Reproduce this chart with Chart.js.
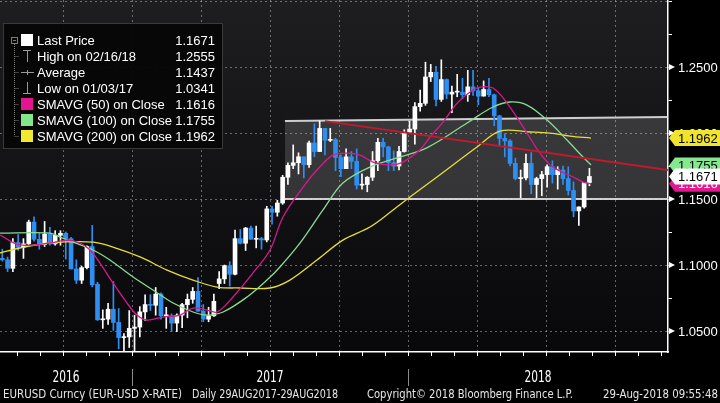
<!DOCTYPE html>
<html>
<head>
<meta charset="utf-8">
<script src="https://cdn.jsdelivr.net/npm/chart.js@4.4.1/dist/chart.umd.min.js"></script>
<style>
  html, body { margin: 0; padding: 0; background: #000; }
  #wrap { width: 720px; height: 403px; }
</style>
</head>
<body>
<div id="wrap"><canvas id="fxChart" width="720" height="403"></canvas></div>
<script>
// --- EURUSD weekly bars ---
const firstWeek = 2016.530;          // middle of the week of 11 Jul 2016, decimal years
const weekStep = 7 / 365.25;

const openPx = [
  1.1050,1.1040,1.0975,1.1170,1.1135,1.1160,1.1325,1.1195,1.1155,1.1235,
  1.1160,1.1225,1.1240,1.1200,1.0970,1.0885,1.0980,1.1140,1.0855,1.0585,
  1.0590,1.0665,1.0565,1.0450,1.0455,1.0520,1.0530,1.0645,1.0700,1.0695,
  1.0780,1.0615,1.0615,1.0560,1.0620,1.0700,1.0740,1.0800,1.0650,1.0590,
  1.0615,1.0860,1.0895,1.0995,1.0930,1.1200,1.1165,1.1280,1.1195,1.1200,
  1.1190,1.1425,1.1400,1.1470,1.1665,1.1755,1.1775,1.1820,1.1760,1.1925,
  1.1860,1.2035,1.1945,1.1950,1.1815,1.1730,1.1820,1.1785,1.1605,1.1610,
  1.1665,1.1790,1.1930,1.1895,1.1775,1.1750,1.1860,1.2005,1.2030,1.2200,
  1.2225,1.2425,1.2460,1.2255,1.2405,1.2295,1.2310,1.2310,1.2290,1.2350,
  1.2320,1.2280,1.2330,1.2290,1.2130,1.1960,1.1940,1.1770,1.1655,1.1660,
  1.1770,1.1610,1.1655,1.1685,1.1745,1.1685,1.1720,1.1655,1.1565,1.1410,
  1.1440,1.1625
];
const highPx = [
  1.1120,1.1060,1.1200,1.1230,1.1200,1.1340,1.1366,1.1240,1.1330,1.1285,
  1.1260,1.1260,1.1250,1.1210,1.1040,1.0990,1.1145,1.1300,1.0870,1.0660,
  1.0710,1.0875,1.0670,1.0480,1.0655,1.0620,1.0685,1.0775,1.0775,1.0830,
  1.0790,1.0680,1.0630,1.0630,1.0710,1.0780,1.0830,1.0905,1.0700,1.0680,
  1.0780,1.0950,1.1000,1.1025,1.1265,1.1270,1.1285,1.1295,1.1295,1.1210,
  1.1445,1.1445,1.1490,1.1680,1.1775,1.1910,1.1850,1.1820,1.1940,1.2070,
  1.2092,1.2035,1.2035,1.1960,1.1835,1.1880,1.1860,1.1880,1.1690,1.1670,
  1.1860,1.1960,1.1960,1.1900,1.1865,1.1900,1.2025,1.2090,1.2230,1.2325,
  1.2537,1.2520,1.2505,1.2555,1.2410,1.2355,1.2445,1.2415,1.2475,1.2475,
  1.2345,1.2395,1.2415,1.2295,1.2135,1.1995,1.1950,1.1810,1.1720,1.1840,
  1.1852,1.1665,1.1710,1.1760,1.1790,1.1745,1.1750,1.1745,1.1630,1.1440,
  1.1625,1.1733
];
const lowPx = [
  1.1030,1.0950,1.0950,1.1110,1.1050,1.1150,1.1180,1.1120,1.1140,1.1150,
  1.1150,1.1150,1.1045,1.0970,1.0860,1.0860,1.0970,1.0835,1.0580,1.0520,
  1.0550,1.0505,1.0365,1.0352,1.0375,1.0341,1.0455,1.0580,1.0655,1.0620,
  1.0590,1.0520,1.0495,1.0495,1.0525,1.0600,1.0710,1.0650,1.0570,1.0570,
  1.0610,1.0820,1.0860,1.0840,1.0925,1.1160,1.1110,1.1195,1.1130,1.1120,
  1.1175,1.1310,1.1370,1.1460,1.1610,1.1730,1.1690,1.1660,1.1740,1.1820,
  1.1860,1.1835,1.1935,1.1715,1.1670,1.1730,1.1730,1.1575,1.1575,1.1555,
  1.1640,1.1715,1.1820,1.1715,1.1715,1.1720,1.1855,1.1995,1.1915,1.2165,
  1.2210,1.2390,1.2205,1.2240,1.2260,1.2155,1.2275,1.2260,1.2240,1.2285,
  1.2215,1.2280,1.2275,1.2055,1.1910,1.1820,1.1750,1.1645,1.1510,1.1645,
  1.1540,1.1510,1.1525,1.1590,1.1620,1.1575,1.1610,1.1530,1.1365,1.1301,
  1.1430,1.1600
];
const closePx = [
  1.1040,1.0975,1.1170,1.1135,1.1160,1.1325,1.1195,1.1155,1.1235,1.1160,
  1.1225,1.1240,1.1200,1.0970,1.0885,1.0980,1.1140,1.0850,1.0585,1.0590,
  1.0665,1.0565,1.0450,1.0455,1.0520,1.0530,1.0645,1.0700,1.0695,1.0780,
  1.0615,1.0615,1.0560,1.0620,1.0700,1.0740,1.0800,1.0650,1.0590,1.0615,
  1.0725,1.0895,1.0995,1.0930,1.1200,1.1165,1.1280,1.1195,1.1200,1.1190,
  1.1425,1.1400,1.1470,1.1665,1.1755,1.1775,1.1820,1.1760,1.1925,1.1860,
  1.2035,1.1945,1.1950,1.1815,1.1730,1.1820,1.1785,1.1605,1.1610,1.1665,
  1.1790,1.1930,1.1895,1.1775,1.1750,1.1860,1.2005,1.2030,1.2200,1.2225,
  1.2425,1.2460,1.2255,1.2405,1.2295,1.2310,1.2310,1.2290,1.2350,1.2320,
  1.2280,1.2330,1.2290,1.2130,1.1960,1.1940,1.1770,1.1655,1.1660,1.1770,
  1.1610,1.1655,1.1685,1.1745,1.1685,1.1720,1.1655,1.1565,1.1410,1.1440,
  1.1625,1.1671
];

// moving averages (x in decimal years)
const sma50Years = [2016.522,2016.594,2016.703,2016.764,2016.812,2016.848,2016.884,2016.931,2016.982,2017.018,
  2017.054,2017.112,2017.174,2017.221,2017.272,2017.308,2017.366,2017.438,2017.500,2017.547,
  2017.620,2017.670,2017.728,2017.779,2017.826,2017.873,2017.935,2017.982,2018.043,2018.080,
  2018.127,2018.178,2018.225,2018.261,2018.308,2018.359,2018.431,2018.478,2018.525,2018.598,
  2018.634,2018.659];
const sma50Vals = [1.1227,1.1152,1.1167,1.1189,1.1167,1.1114,1.1015,1.0864,1.0712,1.0621,
  1.0583,1.0606,1.0621,1.0674,1.0659,1.0644,1.0758,1.0939,1.1114,1.1364,
  1.1591,1.1720,1.1833,1.1848,1.1833,1.1780,1.1758,1.1780,1.1871,1.1970,
  1.2083,1.2227,1.2311,1.2348,1.2341,1.2227,1.2000,1.1848,1.1742,1.1667,
  1.1629,1.1616];

const sma100Years = [2016.522,2016.703,2016.739,2016.786,2016.859,2016.920,2017.004,2017.076,2017.149,2017.221,
  2017.272,2017.330,2017.417,2017.489,2017.536,2017.609,2017.692,2017.764,2017.862,2017.960,
  2018.070,2018.214,2018.308,2018.370,2018.431,2018.504,2018.576,2018.634,2018.663];
const sma100Vals = [1.1242,1.1242,1.1212,1.1174,1.1114,1.1038,1.0909,1.0811,1.0712,1.0644,
  1.0621,1.0644,1.0758,1.0886,1.0985,1.1167,1.1417,1.1621,1.1742,1.1811,
  1.1890,1.2076,1.2197,1.2235,1.2212,1.2098,1.1947,1.1818,1.1758];

const sma200Years = [2016.522,2016.594,2016.703,2016.859,2016.931,2017.029,2017.127,2017.221,2017.308,2017.391,
  2017.500,2017.572,2017.670,2017.764,2017.862,2017.946,2018.007,2018.105,2018.250,2018.333,
  2018.442,2018.514,2018.587,2018.663];
const sma200Vals = [1.1091,1.1129,1.1167,1.1174,1.1136,1.1061,1.0962,1.0886,1.0833,1.0826,
  1.0826,1.0886,1.1038,1.1189,1.1288,1.1417,1.1515,1.1667,1.1894,1.2015,
  1.2008,1.2000,1.1977,1.1962];

// drawn annotations: range box and red trend line
const channelYears = [2017.554, 2018.942];
const channelTop = [1.2091, 1.2121];
const channelBottom = [1.1500, 1.1500];
const trendYears = [2017.699, 2018.942];
const trendVals = [1.2091, 1.1720];

// axes
const quarterTicks = [2016.75, 2017, 2017.25, 2017.5, 2017.75, 2018, 2018.25, 2018.5, 2018.75];
const yearStarts = [2016, 2017, 2018];
const yearLabels = ['2016', '2017', '2018'];
const priceTicks = [1.05, 1.075, 1.10, 1.125, 1.15, 1.175, 1.20, 1.225, 1.25, 1.275, 1.30];
const priceLabels = [1.05, 1.10, 1.15, 1.20, 1.25];

// legend
const legendLabels = ['Last Price', 'High on 02/16/18', 'Average', 'Low on 01/03/17',
  'SMAVG (50) on Close', 'SMAVG (100) on Close', 'SMAVG (200) on Close'];
const legendValues = [1.1671, 1.2555, 1.1437, 1.0341, 1.1616, 1.1755, 1.1962];

const footerLeft = 'EURUSD Curncy (EUR-USD X-RATE)';
const footerRange = 'Daily 29AUG2017-29AUG2018';
const footerCopy = 'Copyright\u00A9 2018 Bloomberg Finance L.P.';
const footerStamp = '29-Aug-2018 09:55:48';

document.addEventListener('DOMContentLoaded', () => {
    const sansFont = "'Liberation Sans', Arial, sans-serif";
    const narrowFont = "'Liberation Sans Narrow', 'DejaVu Sans Condensed', 'Arial Narrow', sans-serif";

    const colors = {
        up: '#ffffff',
        down: '#2f8ff0',
        sma50: '#d8198e',
        sma100: '#88dc90',
        sma200: '#e6de38',
        trend: '#c01a2c',
        grid: 'rgba(190,190,190,0.5)'
    };

    const candleX = closePx.map((_, i) => firstWeek + i * weekStep);
    const candleColors = closePx.map((c, i) => (c >= openPx[i] ? colors.up : colors.down));
    const xy = (xs, ys) => xs.map((x, i) => ({ x, y: ys[i] }));
    const isMajor = v => Math.abs(v * 20 - Math.round(v * 20)) < 1e-6;

    // squeeze a string into a given width (Bloomberg uses a condensed face)
    function fitText(ctx, text, x, y, width) {
        const w = ctx.measureText(text).width;
        const s = Math.min(1, width / w);
        ctx.save();
        ctx.translate(x, y);
        ctx.scale(s, 1);
        ctx.fillText(text, 0, 0);
        ctx.restore();
    }

    // --- plot background: black page, dark gradient inside the plot ---
    const plotBackground = {
        id: 'plotBackground',
        beforeDraw(chart) {
            const { ctx, chartArea: { left, top, right, bottom } } = chart;
            ctx.save();
            ctx.fillStyle = '#000';
            ctx.fillRect(0, 0, chart.width, chart.height);
            const g = ctx.createLinearGradient(0, top, 0, bottom);
            g.addColorStop(0, '#1e1e21');
            g.addColorStop(1, '#08080b');
            ctx.fillStyle = g;
            ctx.fillRect(left, top, right - left, bottom - top);
            ctx.restore();
        }
    };

    // --- Bloomberg bits: axis labels, price tags, footer, legend box ---
    const bloombergDecor = {
        id: 'bloombergDecor',
        afterDraw(chart) {
            const { ctx, chartArea: area, scales: { x, y } } = chart;
            ctx.save();

            // monthly tick marks under the time axis
            ctx.strokeStyle = '#ffffff';
            ctx.lineWidth = 1;
            for (let yr = 2016; yr <= 2018; yr++) {
                for (let m = 0; m < 12; m++) {
                    const v = yr + m / 12;
                    if (v < x.min || v > x.max) continue;
                    const px = Math.round(x.getPixelForValue(v)) + 0.5;
                    ctx.beginPath();
                    ctx.moveTo(px, area.bottom);
                    ctx.lineTo(px, area.bottom + 4);
                    ctx.stroke();
                }
            }

            // year separators and labels
            ctx.strokeStyle = '#8a8a8a';
            yearStarts.forEach(v => {
                if (v <= x.min) return;
                const px = Math.round(x.getPixelForValue(v)) + 0.5;
                ctx.beginPath();
                ctx.moveTo(px, 369);
                ctx.lineTo(px, 386);
                ctx.stroke();
            });
            ctx.fillStyle = '#ffffff';
            ctx.font = '15px ' + narrowFont;
            ctx.textAlign = 'left';
            ctx.textBaseline = 'middle';
            yearLabels.forEach((lbl, i) => {
                const a = Math.max(x.getPixelForValue(yearStarts[i]), area.left);
                const b = Math.min(x.getPixelForValue(yearStarts[i] + 1), area.right);
                fitText(ctx, lbl, (a + b) / 2 - 13.5, 378, 27);
            });

            // footer line
            ctx.font = '12px ' + narrowFont;
            ctx.fillStyle = '#e6e6e6';
            fitText(ctx, footerLeft, 3, 395, 179);
            fitText(ctx, footerRange, 192, 395, 146);
            fitText(ctx, footerCopy, 367, 395, 206);
            fitText(ctx, footerStamp, 603, 395, 115);

            // price labels on the right axis
            ctx.font = '13px ' + sansFont;
            ctx.textAlign = 'left';
            ctx.fillStyle = '#ffffff';
            priceLabels.forEach(v => {
                const py = y.getPixelForValue(v);
                ctx.beginPath();
                ctx.moveTo(area.right + 1, py - 3);
                ctx.lineTo(area.right + 7, py);
                ctx.lineTo(area.right + 1, py + 3);
                ctx.fill();
                ctx.fillText(v.toFixed(4), area.right + 10, py + 1);
            });

            // last-value tags
            const drawTag = (value, fill, textColor) => {
                const py = y.getPixelForValue(value);
                const x0 = area.right + 1;
                ctx.beginPath();
                ctx.moveTo(x0, py);
                ctx.lineTo(x0 + 6, py - 8);
                ctx.lineTo(chart.width, py - 8);
                ctx.lineTo(chart.width, py + 8);
                ctx.lineTo(x0 + 6, py + 8);
                ctx.closePath();
                ctx.fillStyle = fill;
                ctx.fill();
                ctx.fillStyle = textColor;
                ctx.fillText(value.toFixed(4), area.right + 10, py + 1);
            };
            drawTag(legendValues[6], '#f0e52c', '#000000');
            drawTag(legendValues[5], '#86e88e', '#000000');
            drawTag(legendValues[4], '#e21a90', '#ffffff');
            drawTag(legendValues[0], '#ffffff', '#000000');

            // legend box
            const lx = 3, ly = 23, lw = 220, lh = 126;
            ctx.fillStyle = 'rgba(6,6,6,0.94)';
            ctx.fillRect(lx, ly, lw, lh);
            ctx.strokeStyle = 'rgba(110,110,110,0.5)';
            ctx.strokeRect(lx + 0.5, ly + 0.5, lw - 1, lh - 1);

            const rowY = i => 40 + i * 16;
            ctx.strokeStyle = '#7a7a7a';
            ctx.lineWidth = 1;
            ctx.strokeRect(11.5, 37.5, 6, 6);
            ctx.beginPath();
            ctx.moveTo(13, 40.5);
            ctx.lineTo(16, 40.5);
            ctx.stroke();
            ctx.setLineDash([1, 1]);
            ctx.beginPath();
            ctx.moveTo(14.5, 44);
            ctx.lineTo(14.5, rowY(6));
            for (let i = 1; i < 7; i++) {
                ctx.moveTo(14.5, rowY(i) + 0.5);
                ctx.lineTo(19, rowY(i) + 0.5);
            }
            ctx.stroke();
            ctx.setLineDash([]);

            const swatches = ['#ffffff', null, null, null, '#e5148f', '#84e68c', '#f2ea31'];
            legendLabels.forEach((lbl, i) => {
                const cy = rowY(i);
                if (swatches[i]) {
                    ctx.fillStyle = swatches[i];
                    ctx.fillRect(21, cy - 6, 12, 12);
                } else {
                    ctx.strokeStyle = '#9a9a9a';
                    ctx.beginPath();
                    if (i === 1) {
                        ctx.moveTo(23, cy - 5.5); ctx.lineTo(31, cy - 5.5);
                        ctx.moveTo(27.5, cy - 5.5); ctx.lineTo(27.5, cy + 6);
                    } else if (i === 2) {
                        ctx.moveTo(21, cy + 0.5); ctx.lineTo(34, cy + 0.5);
                        ctx.moveTo(27.5, cy - 2); ctx.lineTo(27.5, cy + 3);
                    } else {
                        ctx.moveTo(27.5, cy - 6); ctx.lineTo(27.5, cy + 5.5);
                        ctx.moveTo(23, cy + 5.5); ctx.lineTo(31, cy + 5.5);
                    }
                    ctx.stroke();
                }
                ctx.fillStyle = '#ffffff';
                ctx.font = '13px ' + sansFont;
                ctx.textAlign = 'left';
                ctx.fillText(lbl, 37, cy + 1);
                ctx.textAlign = 'right';
                ctx.fillText(legendValues[i].toFixed(4), 215, cy + 1);
            });

            ctx.restore();
        }
    };

    new Chart(document.getElementById('fxChart'), {
        type: 'bar',
        data: {
            datasets: [
                {
                    type: 'line',
                    label: 'range top',
                    data: xy(channelYears, channelTop),
                    borderColor: 'rgba(225,225,225,0.9)',
                    borderWidth: 2,
                    pointRadius: 0,
                    fill: '+1',
                    backgroundColor: 'rgba(255,255,255,0.15)',
                    order: 20
                },
                {
                    type: 'line',
                    label: 'range bottom',
                    data: xy(channelYears, channelBottom),
                    borderColor: 'rgba(225,225,225,0.9)',
                    borderWidth: 2,
                    pointRadius: 0,
                    fill: false,
                    order: 19
                },
                {
                    label: 'wicks',
                    data: candleX.map((x, i) => ({ x, y: [lowPx[i], highPx[i]] })),
                    backgroundColor: candleColors,
                    barThickness: 1,
                    grouped: false,
                    order: 10
                },
                {
                    label: 'bodies',
                    data: candleX.map((x, i) => ({ x, y: [openPx[i], closePx[i]] })),
                    backgroundColor: candleColors,
                    barThickness: 4,
                    minBarLength: 1,
                    grouped: false,
                    order: 9
                },
                {
                    type: 'line',
                    label: 'SMAVG (200) on Close',
                    data: xy(sma200Years, sma200Vals),
                    borderColor: colors.sma200,
                    borderWidth: 1.3,
                    pointRadius: 0,
                    tension: 0.35,
                    order: 5
                },
                {
                    type: 'line',
                    label: 'SMAVG (100) on Close',
                    data: xy(sma100Years, sma100Vals),
                    borderColor: colors.sma100,
                    borderWidth: 1.3,
                    pointRadius: 0,
                    tension: 0.35,
                    order: 4
                },
                {
                    type: 'line',
                    label: 'SMAVG (50) on Close',
                    data: xy(sma50Years, sma50Vals),
                    borderColor: colors.sma50,
                    borderWidth: 1.3,
                    pointRadius: 0,
                    tension: 0.35,
                    order: 3
                },
                {
                    type: 'line',
                    label: 'trend',
                    data: xy(trendYears, trendVals),
                    borderColor: colors.trend,
                    borderWidth: 1.8,
                    pointRadius: 0,
                    order: 2
                }
            ]
        },
        options: {
            responsive: false,
            animation: false,
            events: [],
            layout: { padding: 0 },
            plugins: {
                legend: { display: false },
                tooltip: { enabled: false }
            },
            scales: {
                x: {
                    type: 'linear',
                    min: 2016.5217,
                    max: 2018.942,
                    offset: false,
                    afterBuildTicks: s => { s.ticks = quarterTicks.map(v => ({ value: v })); },
                    afterFit: s => { s.height = 51; },
                    ticks: { display: false },
                    grid: { color: colors.grid, lineWidth: 1, drawTicks: false, offset: false },
                    border: { color: '#ffffff', width: 1.5, dash: [2, 3] }
                },
                y: {
                    position: 'right',
                    min: 1.0341,
                    max: 1.3008,
                    afterBuildTicks: s => { s.ticks = priceTicks.map(v => ({ value: v })); },
                    afterFit: s => { s.width = 52; },
                    ticks: { display: false },
                    grid: {
                        color: c => (isMajor(c.tick.value) ? colors.grid : 'transparent'),
                        lineWidth: 1,
                        drawTicks: true,
                        tickLength: 4,
                        tickColor: '#ffffff',
                        tickBorderDash: []
                    },
                    border: { color: '#ffffff', width: 1.5, dash: [2, 3] }
                }
            }
        },
        plugins: [plotBackground, bloombergDecor]
    });
});
</script>
</body>
</html>
